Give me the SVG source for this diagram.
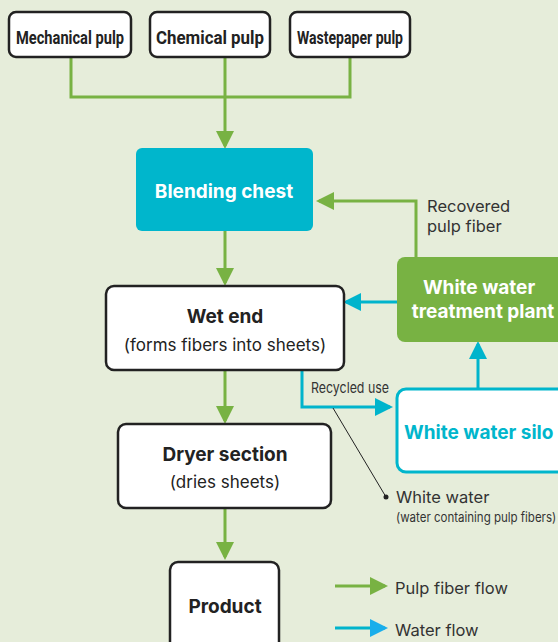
<svg xmlns="http://www.w3.org/2000/svg" width="558" height="642" viewBox="0 0 558 642">
<defs>
<style>
text{font-family:Inter,Roboto,"Liberation Sans",sans-serif;}
.box{fill:#fff;stroke:#222;stroke-width:2.5;}
.src{font-family:Roboto,"Liberation Sans",sans-serif;font-size:19px;font-weight:bold;fill:#222;text-anchor:middle;}
.title{font-size:19px;font-weight:bold;fill:#222;text-anchor:middle;}
.sub{font-size:17px;fill:#222;text-anchor:middle;}
.wt{font-size:19px;font-weight:bold;fill:#fff;text-anchor:middle;}
.lbl{font-size:16.5px;fill:#333;}
.g{fill:none;stroke:#78B243;stroke-width:3;}
.b{fill:none;stroke:#00B4CC;stroke-width:3;}
</style>
<marker id="ag" markerWidth="6" markerHeight="6" refX="5" refY="3" orient="auto" markerUnits="strokeWidth"><path d="M0,0 L6,3 L0,6 Z" fill="#78B243"/></marker>
<marker id="ab" markerWidth="6" markerHeight="6" refX="5" refY="3" orient="auto" markerUnits="strokeWidth"><path d="M0,0 L6,3 L0,6 Z" fill="#00B4CC"/></marker>
<marker id="ab2" markerWidth="6" markerHeight="6" refX="5" refY="3" orient="auto" markerUnits="strokeWidth"><path d="M0,0 L6,3 L0,6 Z" fill="#1AAEEB"/></marker>
</defs>
<rect width="558" height="642" fill="#E6EDDA"/>
<g id="connectors">
<path class="g" d="M71,57 V97 H350 V57"/>
<path class="g" d="M225,57 V146" marker-end="url(#ag)"/>
<path class="g" d="M416,257 V201 H319" marker-end="url(#ag)"/>
<path class="g" d="M225,231 V283" marker-end="url(#ag)"/>
<path class="g" d="M225,370 V421" marker-end="url(#ag)"/>
<path class="g" d="M225,508 V557" marker-end="url(#ag)"/>
<path class="b" d="M397,302 H346" marker-end="url(#ab)"/>
<path class="b" d="M478,389 V344" marker-end="url(#ab)"/>
<path class="b" d="M302,370 V407 H390" marker-end="url(#ab)"/>
<path d="M333,408 L386,497" stroke="#222" stroke-width="1" fill="none"/>
<circle cx="386" cy="497" r="2.5" fill="#222"/>
</g>
<g id="mechanical-pulp"><rect class="box" x="9" y="12" width="122" height="45" rx="7"/><text class="src" x="70" y="44" textLength="108" lengthAdjust="spacingAndGlyphs">Mechanical pulp</text></g>
<g id="chemical-pulp"><rect class="box" x="150" y="12" width="120" height="45" rx="7"/><text class="src" x="210" y="44" textLength="108" lengthAdjust="spacingAndGlyphs">Chemical pulp</text></g>
<g id="wastepaper-pulp"><rect class="box" x="290" y="12" width="120" height="45" rx="7"/><text class="src" x="350" y="44" textLength="106" lengthAdjust="spacingAndGlyphs">Wastepaper pulp</text></g>
<g id="blending-chest"><rect x="136" y="148" width="177" height="83" rx="6" fill="#00B6CC"/><text class="wt" x="224" y="198">Blending chest</text></g>
<g id="recovered-label"><text class="lbl" x="427" y="212">Recovered</text><text class="lbl" x="427" y="232">pulp fiber</text></g>
<g id="wet-end"><rect class="box" x="106" y="286" width="238" height="84" rx="8"/><text class="title" x="225" y="323">Wet end</text><text class="sub" x="225" y="351">(forms fibers into sheets)</text></g>
<g id="treatment-plant"><rect x="397" y="257" width="175" height="85" rx="8" fill="#78B243"/><text class="wt" x="479" y="294">White water</text><text class="wt" x="483" y="318">treatment plant</text></g>
<g id="silo"><rect x="397" y="389" width="175" height="83" rx="9" fill="#fff" stroke="#00B6CC" stroke-width="3"/><text x="404" y="439" font-size="19" font-weight="bold" fill="#00B6CC">White water silo</text></g>
<g id="recycled-label"><text x="311" y="393" font-family="Roboto,sans-serif" font-size="15" fill="#333" textLength="78" lengthAdjust="spacingAndGlyphs">Recycled use</text></g>
<g id="white-water-label"><text class="lbl" x="396" y="503">White water</text><text transform="translate(396,522) scale(1,1.13)" x="0" y="0" font-family="Roboto,sans-serif" font-size="11.5" fill="#333">(water containing pulp fibers)</text></g>
<g id="dryer-section"><rect class="box" x="118" y="424" width="213" height="84" rx="8"/><text class="title" x="225" y="461">Dryer section</text><text class="sub" x="225" y="488">(dries sheets)</text></g>
<g id="product"><rect class="box" x="170" y="562" width="109" height="100" rx="8"/><text class="title" x="225" y="613">Product</text></g>
<g id="legend">
<path class="g" d="M335,586 H385" marker-end="url(#ag)"/>
<text class="lbl" x="395" y="594">Pulp fiber flow</text>
<path d="M335,628 H385" stroke="#00B4CC" stroke-width="3" fill="none" marker-end="url(#ab2)"/>
<text class="lbl" x="395" y="636">Water flow</text>
</g>
</svg>
